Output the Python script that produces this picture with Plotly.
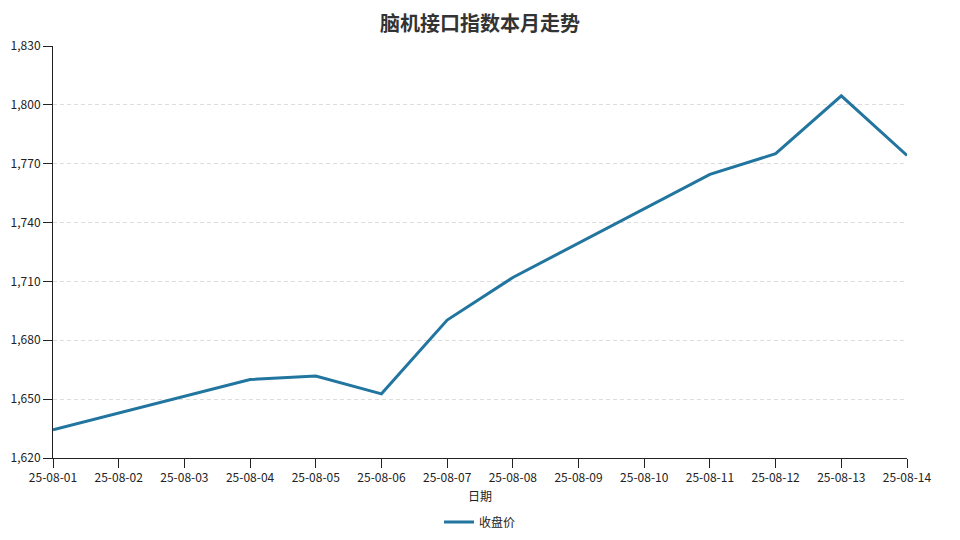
import plotly.graph_objects as go

dates = ["2025-08-01", "2025-08-04", "2025-08-05", "2025-08-06", "2025-08-07",
         "2025-08-08", "2025-08-11", "2025-08-12", "2025-08-13", "2025-08-14"]
close = [1634.4, 1660.0, 1661.8, 1652.7, 1690.3, 1712.0, 1764.6, 1775.1, 1804.6, 1774.2]
y_ticks = [1620, 1650, 1680, 1710, 1740, 1770, 1800, 1830]

FONT = "Noto Sans CJK SC"

fig = go.Figure()
fig.add_trace(go.Scatter(
    x=dates, y=close, mode="lines", name="收盘价",
    line=dict(color="#21759f", width=3),
))

fig.update_layout(
    width=960, height=540,
    paper_bgcolor="white", plot_bgcolor="white",
    font=dict(family=FONT, size=12, color="#222222"),
    title=dict(text="<b>脑机接口指数本月走势</b>", x=0.5, xanchor="center",
               xref="paper", y=0.955, yref="container", yanchor="middle",
               automargin=False,
               font=dict(size=20, color="#333333", family=FONT)),
    margin=dict(l=53, r=53, t=46, b=82, autoexpand=False),
    showlegend=True,
    legend=dict(orientation="h", x=0.5, xanchor="center", y=-0.12, yanchor="top",
                font=dict(size=12, color="#222222")),
    xaxis=dict(
        type="date", range=["2025-08-01", "2025-08-14"],
        dtick=86400000, tick0="2025-08-01", tickformat="%y-%m-%d",
        showgrid=False, showline=True, linecolor="#222222", linewidth=1,
        ticks="outside", ticklen=9, tickcolor="#222222",
        title=dict(text="日期", font=dict(size=12), standoff=8),
        zeroline=False, automargin=False,
    ),
    yaxis=dict(
        range=[1620, 1830], tickvals=y_ticks, tickformat=",d",
        showgrid=True, gridcolor="#dddddd", griddash="4px,3px", gridwidth=1,
        showline=True, linecolor="#222222", linewidth=1,
        ticks="outside", ticklen=9, tickcolor="#222222",
        zeroline=False, automargin=False,
    ),
)

fig.write_html("out.html", config={"displayModeBar": False},
               post_script="document.body.style.margin='0';")
